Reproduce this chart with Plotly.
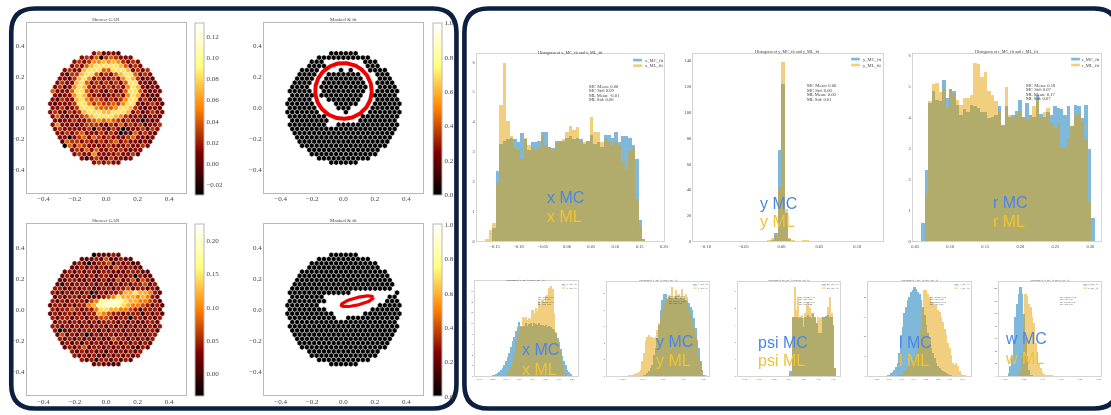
import numpy as np
import plotly.graph_objects as go

W, H = 1111, 415

# ---------- detector images (levels 0-9, row by row) ----------
GAN_RING = ["352332","34350454333","34346676764343","343578888875343","343378885588873434",
"3244788534357885343","33247863433436874232","343378534343435883323","3423687434343436873232",
"53335885343242358853233","3233687433233436873222","32433786454343468834223",
"323334886454454688323432","33423488865556887432332","343243478887788873423433",
"35323345788887643332332","3233433456565434330323","36333234443243534342334",
"3433333414324302334243","334345333434302253432","33034535434333453323","2544343343453433232",
"053543333433343343","343535334343233","34336333343342","31343243323","343433"]
GAN_TRACK = ["022232","22232422322","23202334132312","223232322432322","232323223322233322",
"2322323233223230322","22332232232242342432","213233232322323233423","3322323322332334233232",
"32232323023233466766532","2323323222345766656532","32323332458899876655432",
"233232335689998765543232","32334323357766554323332","232332323365433233313232",
"32332332334432330332323","2332323232333232322332","33232323233232323232323",
"3022323331323323232332","242323023233232323233","32323232322433232323","2323132323232323232",
"232342332323232132","323232313232323","32323213232323","32313323232","232212"]
ROW_SIZES = [6,11,14,15,18,19,20,21,22,23,22,23,24,23,24,23,22,23,22,21,20,19,18,15,14,11,6]
MASK_RING = {2:"111........111",3:"1111........111",4:"1111....1.1...1111",5:"1111..1111111...111",
6:"1111..11111111...111",7:"1111..111111111..1111",8:"1111..1111111111..1111",
9:"11111..111111111..11111",10:"11111.111111111..11111",11:"11111...1111111...11111",
12:"111111....11111...111111",13:"111111....111....111111",14:"1111111.....1....1111111",
15:"11111111.......11111111",16:"11111111......11111111",17:"11111111..1111111111111"}
MASK_TRACK = {8:"111111111111111111111.",9:"1111111111111.........1",10:"1111111.............11",
11:"11111111............111",12:"1111111............11111",13:"11111111.........111111",
14:"1111111111......11111111",15:"1111111111..11111111111"}
GAN_RING_RANGE = [-0.0294, 0.1325]
GAN_TRACK_RANGE = [-0.0335, 0.224]
RING_TICKS = [-0.02,0,0.02,0.04,0.06,0.08,0.10,0.12]
TRACK_TICKS = [0,0.05,0.10,0.15,0.20]
UNIT_TICKS = [0,0.2,0.4,0.6,0.8,1.0]
RING_FIT = [0.0, 0.11, 0.18, 0.18, 0.0]      # cx, cy, a, b, angle
TRACK_FIT = [0.088, 0.053, 0.105, 0.024, 14.0]

# ---------- histograms ----------
A_MC = [0,0,.42,2.35,3.25,3.35,3.4,3.45,3.4,3.3,3.6,3.4,3.05,3.3,3.3,3.35,3.65,3.65,3.15,3.1,3.35,3.35,3.35,3.45,3.5,3.4,3.45,3.4,3.25,3.35,3.55,3.25,3.3,3.15,3.55,3.55,3.45,3.65,3.3,3.5,3.5,3.45,3.2,2.75,.7,.03,0]
A_ML = [.04,.35,.6,1.95,4.55,5.95,4.0,3.5,3.1,3.05,2.75,3.45,3.2,3.1,3.05,3.15,3.55,3.2,3.15,3.05,3.25,3.3,3.4,3.65,3.85,3.7,3.8,3.35,3.3,3.35,4.15,3.65,3.65,3.3,3.4,3.3,3.2,3.3,3.2,2.65,2.4,3.0,3.1,1.4,.5,.05,0]
B_MC = [0,.2,1,6.5,71,122,22,2,.3,0,0,0,0,0]
B_ML = [.3,1,3,5,42,139,25,3,.5,.3,.4,.6,.5,.3]
C_MC = [.58,2.3,4.45,4.85,4.55,4.5,5.2,4.6,4.9,4.85,4.4,4.05,4.25,4.15,4.4,4.35,4.3,4.15,4.15,3.95,4.0,4.05,4.35,3.75,4.35,4.0,4.05,4.2,4.55,4.0,4.45,4.05,4.0,4.7,4.1,4.0,4.15,4.05,4.35,4.3,4.25,4.05,4.35,3.7,4.4,4.35,3.95,4.4,2.95,.73]
C_ML = [0,1.5,4.5,5.05,5.1,4.8,4.9,4.3,4.9,4.75,4.55,4.4,4.6,4.6,4.7,5.75,5.7,5.3,5.45,4.85,4.7,4.5,4.2,3.7,4.95,4.05,3.95,4.05,4.2,4.0,3.9,4.05,4.35,4.55,4.0,4.15,4.3,3.8,3.65,3.8,3.0,3.0,3.3,3.7,4.05,4.1,3.85,3.25,1.25,0]
D_MC = [.06,.19,.31,.44,.63,.88,1.19,1.63,2.25,2.88,3.69,4.44,5.56,6.63,7.56,8.69,9.44,10.31,9.56,9.31,9.56,10.06,9.56,9.88,10.06,9.63,10.06,9.94,9.69,10.06,9.75,9.81,9.56,9.69,9.44,9.56,9.31,9.06,8.81,8.31,7.25,6.44,5.19,3.81,2.94,2.19,1.31,.81,.38,.06]
D_ML = [0,0,0,0,0,0,0,0,.19,.31,.63,1.0,1.75,2.75,4.5,6.5,8.0,8.6,9.5,11.2,11.0,11.3,10.6,11.0,10.8,12.5,12.0,13.0,12.3,14.2,13.6,14.4,14.0,15.3,15.5,16.8,17.2,16.5,12.0,8.5,6.5,5.6,4.6,2.6,.8,.1,0,0,0,0]
E_MC = [0,0,0,0,0,0,0,0,0,0,.12,.2,.44,.7,1.04,1.44,2.64,3.44,4.64,6.24,8.04,9.24,9.96,10.04,9.44,9.64,9.44,9.5,9.44,9.6,9.5,9.44,9.5,9.44,9.5,9.3,9.1,8.84,8.44,8.04,7.04,5.84,4.44,3.44,1.84,.84,.24,0]
E_ML = [.04,.08,.16,.24,.28,.32,.44,.6,.84,1.84,2.84,4.24,4.84,5.04,4.84,4.84,4.64,4.84,5.64,6.44,7.24,8.04,8.84,9.24,9.56,9.84,9.64,10.84,9.64,10.44,9.84,10.04,9.64,10.64,9.64,10.04,9.64,8.44,7.64,6.64,5.84,4.84,3.84,2.64,1.64,.84,.24,.1]
F_MC = [.31,.31,3.51,3.51,3.51,3.41,3.51,3.41,2.93,3.51,3.51,3.61,3.51,3.41,3.70,3.51,3.12,2.54,2.54,2.54,3.51,3.51,3.55,3.61,3.51,3.51,3.03,.5]
F_ML = [0,0,3.51,5.25,3.9,4.67,3.51,3.61,3.41,3.70,4.19,4.38,3.99,3.70,3.51,3.41,3.12,3.51,3.41,3.51,3.51,3.51,3.51,4.09,4.67,3.70,2.54,.5]
G_MC = [.1,.5,1,1.6,2.2,3.5,5,6.8,11.8,21,25,32,35,38.5,40,42.5,43.5,45,44,42.5,41.5,38.5,35,31,26,22,18.5,14.3,11.8,9.3,6.8,5.2,4.3,3.5,2.7,2.2,1.8,1.5,1,.5,.2,0,0,0,0,0,0,0,0]
G_ML = [0,0,0,0,0,0,.1,.3,.5,1,1.5,2.7,3.5,4.3,5.5,6.8,8,10,12,15,18.5,23.5,35,43.5,43.8,41.8,40,37.5,37.5,36,36,33.5,32.5,30,27.5,24,21,16.8,14.3,11,6.8,6,6.8,5.2,2.7,1.5,1,.5,.2]
H_MC = [.5,5.8,16,32,58,95,116,132,142,132,100,63,32,11,3,1,.5,0,0,0,0,0,0,0,0,0,0,0,0,0]
H_ML = [0,0,0,0,0,0,0,1.5,11,37,79,132,129,116,111,95,85,53,32,22,14,7,4,3,2,2,1,1,.5,.5]

TICKS_A = ([-0.15,-0.10,-0.05,0.00,0.05,0.10,0.15,0.20], [0,1,2,3,4,5,6])
TICKS_B = ([-0.10,-0.05,0.00,0.05,0.10], [0,20,40,60,80,100,120,140])
TICKS_C = ([0.05,0.10,0.15,0.20,0.25,0.30], [0,1,2,3,4,5,6])
TICKS_D = ([-0.3,-0.2,-0.1,0.0,0.1,0.2,0.3,0.4], [0,2,4,6,8,10,12,14,16])
TICKS_E = ([-0.2,-0.1,0.0,0.1,0.2], [0,2,4,6,8,10])
TICKS_F = ([-1.5,-1.0,-0.5,0.0,0.5,1.0,1.5], [0,1,2,3,4,5])
TICKS_G = ([0.00,0.05,0.10,0.15,0.20,0.25,0.30,0.35], [0,10,20,30,40])
TICKS_H = ([0.00,0.05,0.10,0.15,0.20,0.25], [0,20,40,60,80,100,120,140])

STATS_A = ["MC Mean: 0.00","MC Std: 0.09","ML Mean: -0.01","ML Std: 0.08"]
STATS_B = ["MC Mean: 0.00","MC Std: 0.00","ML Mean: 0.00","ML Std: 0.01"]
STATS_C = ["MC Mean: 0.18","MC Std: 0.07","ML Mean: 0.17","ML Std: 0.07"]
STATS_D = ["MC Mean: 0.03","MC Std: 0.11","ML Mean: 0.07","ML Std: 0.08"]
STATS_E = ["MC Mean: 0.00","MC Std: 0.09","ML Mean: -0.02","ML Std: 0.09"]
STATS_F = ["MC Mean: 0.77","MC Std: 0.45","ML Mean: 0.79","ML Std: 0.44"]
STATS_G = ["MC Mean: 0.08","MC Std: 0.04","ML Mean: 0.14","ML Std: 0.05"]
STATS_H = ["MC Mean: 0.04","MC Std: 0.01","ML Mean: 0.06","ML Std: 0.01"]

AFMHOT = [[0,"#000000"],[0.25,"#800000"],[0.5,"#ff8000"],[0.75,"#ffff80"],[1,"#ffffff"]]
BLUE, ORANGE = "#0072B2", "#E69F00"
SPINE, HIST_SPINE = "#b8b8b8", "#d4d4d4"
FRAME = "#0c1f41"
SERIF, SANS = "Liberation Serif", "Liberation Sans"

fig = go.Figure()
shapes, notes = [], []
axis_id = [0]

def px(x): return x / W
def py(y): return 1 - y / H

def note(text, x, y, size, color="#444444", family=SERIF, anchor="center"):
    notes.append(dict(text=text, x=px(x), y=py(y), xref="paper", yref="paper", showarrow=False,
                      xanchor=anchor, yanchor="middle", align="left",
                      font=dict(size=size, color=color, family=family), borderpad=0, borderwidth=0))

def axes(x0, x1, y0, y1, xr, yr, xt, yt, font, color, fmt_x=".1f", fmt_y=None, standoff=0):
    axis_id[0] += 1
    n = axis_id[0]
    common = dict(showgrid=False, zeroline=False, showline=True, mirror=True, linecolor=color, linewidth=1,
                  ticks="", tickfont=dict(size=font, family=SERIF, color="#444444"), fixedrange=True)
    fig.layout[f"xaxis{n}"] = dict(domain=[px(x0), px(x1)], range=xr, anchor=f"y{n}", tickvals=xt,
                                   tickformat=fmt_x, ticklabelstandoff=standoff, **common)
    fig.layout[f"yaxis{n}"] = dict(domain=[py(y1), py(y0)], range=yr, anchor=f"x{n}", tickvals=yt,
                                   tickformat=fmt_y or "", **common)
    return f"x{n}", f"y{n}"

def heat_panel(x0, y0, rows, vrange, ticks, title, bar_x, fit=None, mask=None, top=9, standoff=0):
    xa, ya = axes(x0, x0 + 159.4, y0, y0 + 172, [-0.505, 0.505], [-0.55, 0.55],
                  [-0.4,-0.2,0,0.2,0.4], [-0.4,-0.2,0,0.2,0.4], 7, SPINE, fmt_y=".1f", standoff=standoff)
    xs, ys, vs = [], [], []
    for k, n in enumerate(ROW_SIZES):
        row = rows[k] if rows is not None else (mask.get(k, "1" * n))
        for i, ch in enumerate(row):
            if ch == ".":
                continue
            xs.append((i - (len(row) - 1) / 2) * 0.031)
            ys.append((13 - k) * 0.0271)
            if rows is not None:
                vs.append(vrange[0] + int(ch) * (vrange[1] - vrange[0]) / top)
            else:
                vs.append(0.0)
    fig.add_trace(go.Scatter(x=xs, y=ys, xaxis=xa, yaxis=ya, mode="markers", showlegend=False, hoverinfo="skip",
        marker=dict(symbol="hexagon", size=5.4, color=vs, colorscale=AFMHOT, cmin=vrange[0], cmax=vrange[1],
                    line=dict(color="white", width=0.35),
                    colorbar=dict(x=px(bar_x), xanchor="left", xpad=0, ypad=0, y=py(y0), yanchor="top",
                                  lenmode="pixels", len=172, thicknessmode="pixels", thickness=8.5,
                                  outlinecolor=SPINE, outlinewidth=1, ticks="", tickvals=ticks,
                                  tickformat=".2f" if vrange[1] < 0.9 else ".1f", ticklabelposition="outside",
                                  tickfont=dict(size=7, family=SERIF, color="#444444")))))
    if fit:
        cx, cy, a, b, ang = fit
        t = np.linspace(0, 2 * np.pi, 200)
        th = np.radians(ang)
        fig.add_trace(go.Scatter(x=cx + a*np.cos(t)*np.cos(th) - b*np.sin(t)*np.sin(th),
                                 y=cy + a*np.cos(t)*np.sin(th) + b*np.sin(t)*np.cos(th),
                                 xaxis=xa, yaxis=ya, mode="lines", showlegend=False, hoverinfo="skip",
                                 line=dict(color="#f00000", width=4 if a == b else 3.2)))
    note(title, x0 + 79.5, y0 - 3.4, 5)

def hist_panel(box, xr, yr, ticks, start, width, mc, ml, name, title_x, title_y, title_size,
               stats, stats_xy, stats_size, stats_gap, leg, fonts, label_xy, label_ys, fmt_y=".0f"):
    x0, x1, y0, y1 = box
    xa, ya = axes(x0, x1, y0, y1, xr, yr, ticks[0], ticks[1], fonts, HIST_SPINE, fmt_x=".2f", fmt_y=fmt_y)
    for vals, col in ((mc, BLUE), (ml, ORANGE)):
        fig.add_trace(go.Bar(x=[start + (i + 0.5) * width for i in range(len(vals))], y=vals, width=width,
                             xaxis=xa, yaxis=ya, opacity=0.5, marker=dict(color=col, line=dict(width=0)),
                             showlegend=False, hoverinfo="skip"))
    note(f"Histogram of {name}_MC_fit and {name}_ML_fit", title_x, title_y, title_size)
    for i, s in enumerate(stats):
        note(s, stats_xy[0], stats_xy[1] + i * stats_gap, stats_size, anchor="left")
    lx0, lx1, ly, lh, lgap, ltx = leg
    for i, (lab, col) in enumerate(((f"{name}_MC_fit", BLUE), (f"{name}_ML_fit", ORANGE))):
        shapes.append(dict(type="rect", xref="paper", yref="paper", x0=px(lx0), x1=px(lx1),
                           y0=py(ly + i * lgap + lh), y1=py(ly + i * lgap), fillcolor=col, opacity=0.5,
                           line=dict(width=0)))
        note(lab, ltx, ly + i * lgap + lh / 2, stats_size, anchor="left")
    note(f"{name} MC", label_xy, label_ys[0], 16, "#4a86e8", SANS, "left")
    note(f"{name} ML", label_xy, label_ys[1], 16, "#f1c232", SANS, "left")

heat_panel(26, 22, GAN_RING, GAN_RING_RANGE, RING_TICKS, "Shower GAN", 194.7, top=11.5, standoff=-2)
heat_panel(264.3, 22, None, [0, 1], UNIT_TICKS, "Masked &amp; fit", 433.7, fit=RING_FIT, mask=MASK_RING, standoff=-2)
heat_panel(26, 225.5, GAN_TRACK, GAN_TRACK_RANGE, TRACK_TICKS, "Shower GAN", 194.7, top=10.2)
heat_panel(264.3, 225.5, None, [0, 1], UNIT_TICKS, "Masked &amp; fit", 433.7, fit=TRACK_FIT, mask=MASK_TRACK)

hist_panel((477.7,666.3,54,242.7), [-0.187,0.201], [0,6.25], TICKS_A, -0.170, 0.0072, A_MC, A_ML, "x", 572, 52, 4.2,
           STATS_A, (591,86), 4.6, 4.65, (635,644,58.3,2.7,5.7,647), 4.5, 548.3, (198.3,217.7))
hist_panel((695.3,885.7,53.3,242.7), [-0.1165,0.1335], [0,145.5], TICKS_B, -0.0234, 0.0046, B_MC, B_ML, "y", 790, 51, 4.2,
           STATS_B, (809.3,85.7), 4.6, 4.55, (854,862.7,57.3,2.7,6,865.7), 4.5, 762.7, (204,223))
hist_panel((915.7,1105.3,54,242.7), [0.0462,0.3156], [0,6.03], TICKS_C, 0.058, 0.00495, C_MC, C_ML, "r", 1010.7, 51, 4.2,
           STATS_C, (1029.7,85), 4.6, 4.65, (1075,1083.7,57.3,2.7,6,1086), 4.5, 996.7, (203,222.7))
hist_panel((476,579.3,282.3,378.7), [-0.335,0.4426], [0,18.06], TICKS_D, -0.2173, 0.01253, D_MC, D_ML, "x", 527, 282, 2.5,
           STATS_D, (539,299.3), 2.5, 2.45, (563.3,567,286,1.2,3.3,568.3), 2.5, 523.3, (351.7,371.7))
hist_panel((608.3,711.3,283.3,378.7), [-0.2787,0.2279], [0,11.44], TICKS_E, -0.1803, 0.0082, E_MC, E_ML, "y", 660, 282, 2.5,
           STATS_E, (670.7,298.3), 2.5, 2.45, (695,699,286,1.2,3.3,700), 2.5, 658, (344.3,363.3))
hist_panel((740,842.7,283.3,378.7), [-1.724,1.724], [0,5.54], TICKS_F, 0.0112, 0.056, F_MC, F_ML, "psi", 791.7, 282, 2.5,
           STATS_F, (801.7,299.3), 2.5, 2.45, (824.3,828.7,286,1.2,3.3,829.7), 2.5, 760, (345,363.3))
hist_panel((870.7,974,283.3,378.7), [-0.0383,0.3839], [0,47.7], TICKS_G, 0.0342, 0.00683, G_MC, G_ML, "l", 922.7, 282, 2.5,
           STATS_G, (932.7,299.3), 2.5, 2.45, (957.7,961.7,286,1.2,3.3,963), 2.5, 902.3, (345,362.7))
hist_panel((1002.3,1105,283.3,378.7), [-0.0178,0.2562], [0,150.5], TICKS_H, 0.0027, 0.00445, H_MC, H_ML, "w", 1054, 282, 2.5,
           STATS_H, (1064,299.3), 2.5, 2.45, (1087,1091.3,286,1.2,3.3,1092), 2.5, 1008.3, (340.7,360.7))

def rounded(x0, y0, x1, y1, r):
    pts = [(x0+r,y0),(x1-r,y0),(x1,y0),(x1,y0+r),(x1,y1-r),(x1,y1),(x1-r,y1),(x0+r,y1),(x0,y1),(x0,y1-r),(x0,y0+r),(x0,y0),(x0+r,y0)]
    p = [(px(a), py(b)) for a, b in pts]
    s = f"M{p[0][0]},{p[0][1]} L{p[1][0]},{p[1][1]} Q{p[2][0]},{p[2][1]} {p[3][0]},{p[3][1]} "
    s += f"L{p[4][0]},{p[4][1]} Q{p[5][0]},{p[5][1]} {p[6][0]},{p[6][1]} L{p[7][0]},{p[7][1]} "
    s += f"Q{p[8][0]},{p[8][1]} {p[9][0]},{p[9][1]} L{p[10][0]},{p[10][1]} Q{p[11][0]},{p[11][1]} {p[12][0]},{p[12][1]} Z"
    return dict(type="path", path=s, xref="paper", yref="paper", line=dict(color=FRAME, width=4.6), fillcolor="rgba(0,0,0,0)")

shapes.append(rounded(10.3, 7.5, 457.5, 411.5, 24))
shapes.append(rounded(465.5, 7.5, 1122, 411.5, 24))

fig.update_layout(width=W, height=H, margin=dict(l=0, r=0, t=0, b=0), barmode="overlay", bargap=0,
                  paper_bgcolor="white", plot_bgcolor="white", showlegend=False,
                  shapes=shapes, annotations=notes)
fig.write_html("out.html", config={"displayModeBar": False},
               post_script="document.body.style.margin='0';document.body.style.overflow='hidden';document.body.style.filter='blur(0.45px)';")
